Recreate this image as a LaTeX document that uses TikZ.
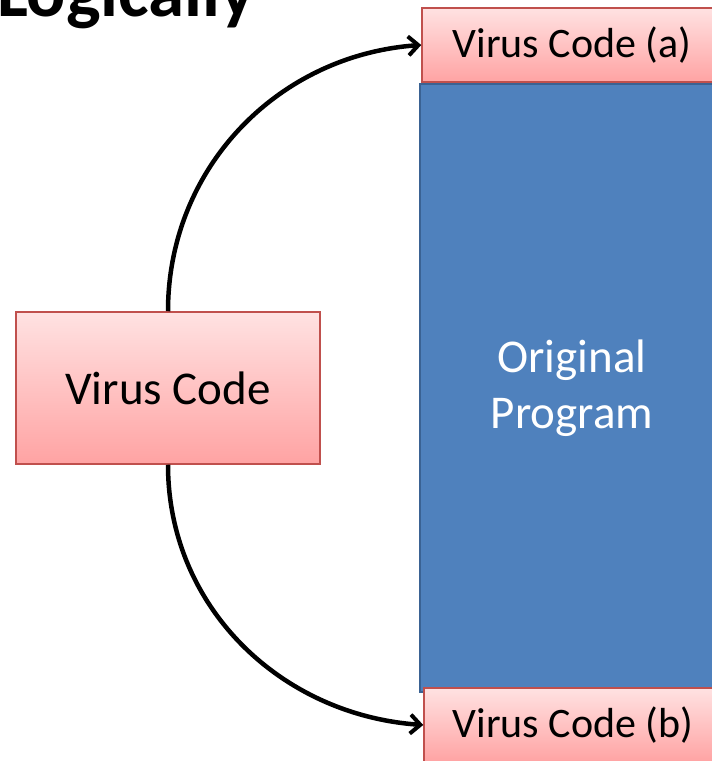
\documentclass[tikz,border=0pt]{standalone}
\usepackage{fontspec}
\setmainfont{Carlito}
\usetikzlibrary{positioning,arrows.meta,calc}
\definecolor{pinktop}{HTML}{FFE2E2}
\definecolor{pinkbot}{HTML}{FFA3A3}
\definecolor{pinkline}{HTML}{C0504D}
\definecolor{progblue}{HTML}{4F81BD}
\definecolor{progline}{HTML}{3A6293}

\begin{document}
\begin{tikzpicture}[
    x=1pt,y=1pt,
    vbox/.style={rectangle,draw=pinkline,line width=1.5pt,top color=pinktop,bottom color=pinkbot,inner sep=0pt,align=center},
    arrow/.style={-{Straight Barb[length=10pt,width=19pt,line width=4pt]},line width=4.5pt,black}
]
\useasboundingbox (0,0) rectangle (712,761);

\node[anchor=base west,inner sep=0pt,font=\fontsize{73}{86}\selectfont\bfseries] (title) at (-3,744) {Logically};

\node[rectangle,draw=progline,line width=2.5pt,fill=progblue,minimum width=304pt,minimum height=608pt,text=white,align=center,font=\fontsize{47}{56}\selectfont] (orig) at (572,373) {Original\\Program};
\node[vbox,minimum width=300pt,minimum height=74pt,font=\fontsize{42}{50}\selectfont] (codeA) at (572,716) {Virus Code (a)};
\node[vbox,minimum width=298pt,minimum height=74pt,font=\fontsize{42}{50}\selectfont] (codeB) at (573,36) {Virus Code (b)};
\node[vbox,minimum width=304pt,minimum height=152pt,font=\fontsize{47}{56}\selectfont] (virus) at (168,373) {Virus Code};

\draw[arrow] (virus.north) to[out=90,in=184] (codeA.west);
\draw[arrow] (virus.south) to[out=-90,in=176] (codeB.west);

\end{tikzpicture}
\end{document}
